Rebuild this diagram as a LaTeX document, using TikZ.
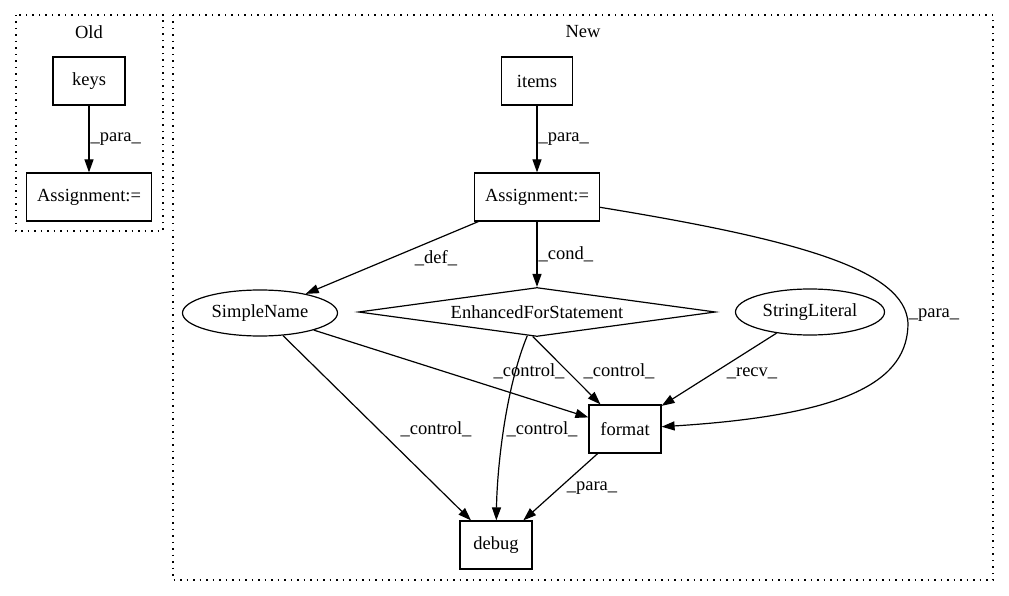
\documentclass[tikz,border=0pt]{standalone}
\usepackage{fontspec}
\setmainfont{Liberation Serif}
\usetikzlibrary{arrows.meta,shapes.geometric}
\begin{document}
\begin{tikzpicture}[x=1pt,y=-1pt,line width=1.2pt,
  every node/.style={font=\fontsize{18.5}{21}\selectfont},
  cluster/.style={draw,dash pattern=on 1.5pt off 5pt},
  box/.style={draw,rectangle,inner sep=0pt},
  oval/.style={draw,ellipse,inner sep=0pt,minimum height=46pt},
  edge/.style={-{Triangle[length=13pt,width=9pt]}},
  lbl/.style={inner sep=1pt}]
\useasboundingbox (0,0) rectangle (1009,596);
% clusters
\draw[cluster] (16,15) rectangle (163,231);
\draw[cluster] (173,15) rectangle (993,580);
\node (oldt) at (89,32) {Old};
\node (newt) at (583,32) {New};
% old
\node[box,minimum width=72pt,minimum height=48pt] (keys) at (89,81) {keys};
\node[box,minimum width=125pt,minimum height=48pt] (A1) at (89,197) {Assignment:=};
\draw[edge] (keys) -- (A1) node[lbl,midway,right=0pt] {\_para\_};
% new
\node[box,minimum width=71pt,minimum height=48pt] (items) at (537,81) {items};
\node[box,minimum width=125pt,minimum height=48pt] (A2) at (537,197) {Assignment:=};
\node[oval,minimum width=155pt] (SN) at (260,313) {SimpleName};
\node[draw,diamond,inner sep=0pt,aspect=7.27,minimum width=357pt,minimum height=49pt] (EFS) at (537,312) {EnhancedForStatement};
\node[oval,minimum width=149pt] (SL) at (810,312) {StringLiteral};
\node[box,minimum width=72pt,minimum height=48pt] (F) at (625,429) {format};
\node[box,minimum width=72pt,minimum height=48pt] (D) at (496,545) {debug};
% edges
\draw[edge] (items) -- (A2) node[lbl,midway,right=0pt] {\_para\_};
\draw[edge] (A2) -- (SN);
\node[lbl] (ldef) at (436,258) {\_def\_};
\draw[edge] (A2) -- (EFS) node[lbl,midway,right=0pt] {\_cond\_};
\draw[edge] (A2) .. controls (800,240) and (905,270) .. (908,323)
  .. controls (908,380) and (850,415) .. (F);
\node[lbl] (lpara2) at (934,315) {\_para\_};
\draw[edge] (SN) -- (F);
\node[lbl] (lc1) at (529,371) {\_control\_};
\draw[edge] (EFS.-100) -- (F);
\node[lbl] (lc2) at (619,371) {\_control\_};
\draw[edge] (SN) -- (D);
\node[lbl] (lc3) at (436,429) {\_control\_};
\draw[edge] (EFS) .. controls (505,390) and (497,470) .. (D);
\node[lbl] (lc4) at (542,429) {\_control\_};
\draw[edge] (SL) -- (F);
\node[lbl] (lrecv) at (752,373) {\_recv\_};
\draw[edge] (F) -- (D);
\node[lbl] (lpara3) at (592,488) {\_para\_};
\end{tikzpicture}
\end{document}
